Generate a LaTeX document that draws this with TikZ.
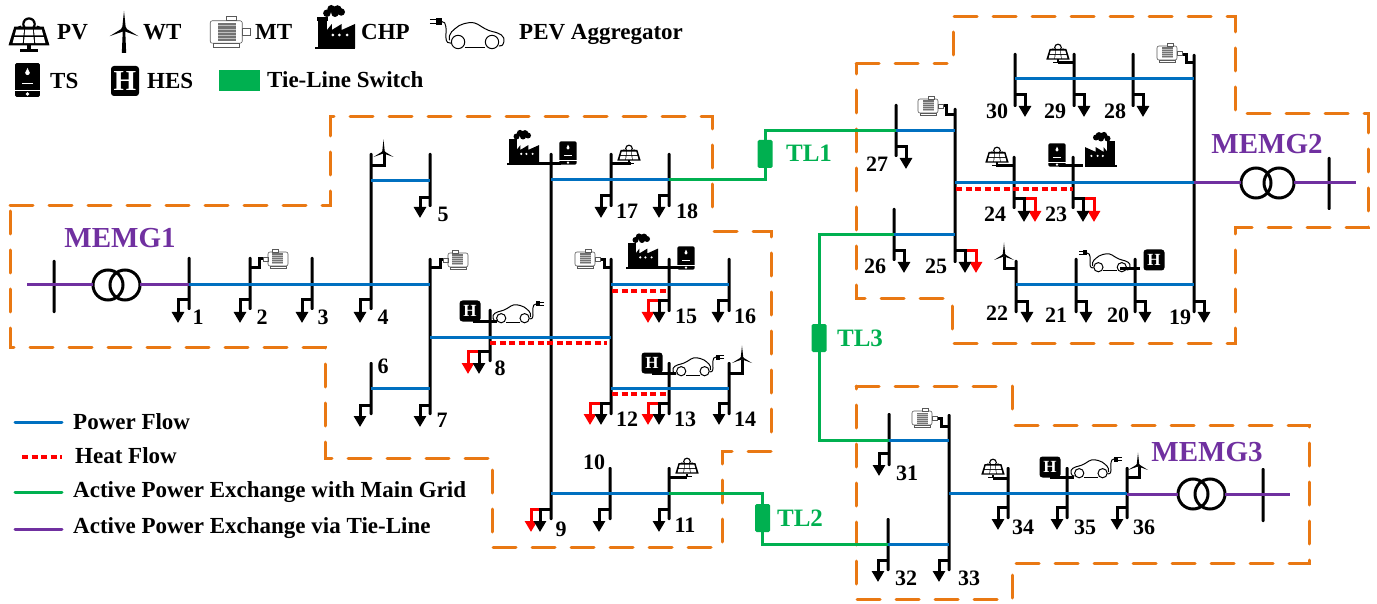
\documentclass[tikz,border=0pt]{standalone}
\usepackage{fontspec}
\setmainfont{Liberation Serif}
\usetikzlibrary{arrows.meta}
\definecolor{cblue}{HTML}{0070C0}
\definecolor{cgreen}{HTML}{00B050}
\definecolor{cpurple}{HTML}{7030A0}
\definecolor{cred}{HTML}{FF0000}
\definecolor{corange}{HTML}{E97813}
\tikzset{
 busnode/.style={fill=black,inner sep=0pt,outer sep=0pt,minimum width=3pt,draw=none,rounded corners=1pt},
 stub/.style={line width=3pt,black},
 loadarrow/.style={stub,-{Triangle[length=11pt,width=12pt]}},
 heatarrow/.style={loadarrow,cred},
 pf/.style={line width=3pt,cblue},
 hf/.style={line width=3.2pt,cred,dash pattern=on 6pt off 3.5pt},
 gl/.style={line width=3pt,cgreen},
 pl/.style={line width=3pt,cpurple},
 bound/.style={line width=3pt,corange,line cap=round,dash pattern=on 23pt off 16pt},
 xf/.style={circle,draw=black,line width=3pt,minimum size=30pt,inner sep=0pt,outer sep=0pt},
 tieswitch/.style={fill=cgreen,rounded corners=1.5pt,minimum width=15pt,minimum height=28pt,inner sep=0pt,outer sep=0pt},
 hes/.style={fill=black,rounded corners=3pt,minimum width=21pt,minimum height=21pt,inner sep=0pt,text=white,font=\fontsize{17}{17}\selectfont\bfseries},
 numlab/.style={inner sep=0pt,font=\fontsize{22}{22}\selectfont\bfseries},
 legtext/.style={inner sep=0pt,anchor=base west,font=\fontsize{23}{23}\selectfont\bfseries},
 memg/.style={inner sep=0pt,text=cpurple,font=\fontsize{29}{29}\selectfont\bfseries},
 tllab/.style={inner sep=0pt,text=cgreen,font=\fontsize{25}{25}\selectfont\bfseries},
 pics/pvicon/.style={code={
   \fill[even odd rule] (0,-4.5) circle[radius=3.9] (0,-4.5) circle[radius=2.7];
   \foreach \a in {-70,-35,0,35,70}{\fill ({90+\a}:0) ++(0,-4.5) ++({90+\a}:4.6) -- ++({\a}:.8) -- ++({90+\a}:1.9) -- ++({180+\a}:1.6) -- ++({270+\a}:1.9) -- cycle;}
   \fill (-8.4,-3) -- (8.4,-3) -- (11.7,7.6) -- (-11.7,7.6) -- cycle;
   \foreach \t/\b/\wt/\wb in {-1.4/2/8.3/9.3, 3/6.3/9.7/10.6}{
     \foreach \l/\r in {-.88/-.34,-.27/.27,.34/.88}{
       \fill[white] ({\l*\wt},\t) -- ({\r*\wt},\t) -- ({\r*\wb},\b) -- ({\l*\wb},\b) -- cycle;
     }
   }
   \fill (-1.2,7.5) rectangle (1.2,10);
   \fill (-5,10) rectangle (5,11.3);
 }},
 pics/wticon/.style={code={
   \fill (0,0) circle[radius=1.9];
   \fill (-1.3,0) -- (0,-12.5) -- (1.3,0) -- cycle;
   \fill (0,-1.2) -- (-10,5) -- (.7,1.2) -- cycle;
   \fill (0,-1.2) -- (10,5) -- (-.7,1.2) -- cycle;
   \fill (-.8,0) -- (.8,0) -- (1.5,#1) -- (-1.5,#1) -- cycle;
 }},
 pics/mticon/.style={code={
   \draw[black!65,line width=.6pt,fill=white,rounded corners=2pt] (-13,-7) rectangle (7,7);
   \draw[black!65,line width=.6pt,fill=white] (-3,-10) rectangle (3,-7);
   \draw[black!65,line width=.6pt] (-11,7) rectangle (5,9.5);
   \draw[black!65,line width=.6pt] (7,-2) rectangle (12,2);
   \fill[black!55] (-8,-5.5) rectangle (3,5.5);
   \foreach \v in {-4,-2,0,2,4}{\draw[black!25,line width=.4pt] (-8,\v) -- (3,\v);}
 }},
 pics/chpicon/.style={code={
   \fill (-16,16) rectangle (16,17.6);
   \fill (-13.6,-6) rectangle (-6.4,17);
   \fill (-14.4,-8) rectangle (-5.6,-5);
   \fill (-6.4,17) -- (-6.4,2.4) -- (-2.6,-2.4) -- (-2.6,2.4) -- (5.3,-2.4) -- (5.3,2.4) -- (16,-2.4) -- (16,17) -- cycle;
   \fill[white] (-1.8,6.4) circle[radius=1.2] (3.4,6.4) circle[radius=1.2] (9.6,6.4) circle[radius=1.2];
   \fill (-6.5,-11) circle[radius=3] (-3,-14.5) circle[radius=3.1] (2,-14) circle[radius=3.4] (5,-12) circle[radius=3] (0,-11) circle[radius=3];
 }},
 pics/tsicon/.style={code={
   \fill[rounded corners=1.5pt] (-8.6,-11.7) rectangle (8.6,11.7);
   \fill[white] (0,-8.3) -- (1.6,-5) arc[start angle=0,end angle=180,radius=1.6] -- cycle;
   \fill[white] (-4,1.8) rectangle (4,2.9);
   \fill[white] (-8.6,6.6) rectangle (8.6,7.3);
   \fill[white] (0,9.6) circle[radius=1.3];
 }},
 pics/pevicon/.style={code={
   \draw[line width=1pt] (-21,-8) .. controls (-17,-8) and (-18,-2) .. (-18,3) .. controls (-18,6.5) and (-16,7.5) .. (-14.5,7);
   \draw[line width=1pt] (-15.5,5) .. controls (-16.5,0) and (-13,-2) .. (-9,-5) .. controls (-4,-7.5) and (1,-8) .. (4,-6) .. controls (8,-3.5) and (10,-2) .. (14,-1) .. controls (19,0) and (23,2) .. (22,6) .. controls (21.5,8.5) and (20,9.5) .. (18.5,9);
   \draw[line width=1pt] (-5,10) -- (9,10);
   \draw[line width=1pt] (-9.6,6.2) circle[radius=4.6] (13.8,6.2) circle[radius=4.6];
   \fill (-25,-10.5) rectangle (-21,-5.5);
   \draw[line width=.8pt] (-29,-9.3) -- (-25,-9.3) (-29,-6.7) -- (-25,-6.7);
 }},
}
\newcommand\busbar[4]{\node[busnode,minimum height={(#4-#3)*1pt}] (#1) at (#2,{(#3+#4)/2}) {};}
\newcommand\loadat[4]{\draw[loadarrow] (#1 |- 0,#2) -| (#3,#4);}
\newcommand\heatat[4]{\draw[heatarrow] (#1 |- 0,#2) -| (#3,#4);}
\newcommand\numat[4]{\node[numlab] (#1) at (#2,#3) {#4};}
\begin{document}
\begin{tikzpicture}[x=1pt,y=-1pt]
\useasboundingbox (0,0) rectangle (1377,604);
% boundaries
\draw[bound] (10,206) -- (330,206) -- (330,117) -- (712,117) -- (712,218);
\draw[bound] (714,232) -- (771,232) -- (771,437);
\draw[bound] (771,451) -- (722,451) -- (722,547) -- (492,547) -- (492,458) -- (325,458) -- (325,347) -- (10,347) -- (10,206);
\draw[bound] (856,64) -- (947,64);
\draw[bound] (953,55) -- (953,17) -- (1235,17) -- (1235,114) -- (1368,114) -- (1368,228) -- (1235,228) -- (1235,343) -- (952,343) -- (952,299) -- (856,299) -- (856,64);
\draw[bound] (856,386) -- (1012,386) -- (1012,412);
\draw[bound] (1015,425) -- (1309,425) -- (1309,563) -- (1012,563) -- (1012,599) -- (856,599) -- (856,386);
% buses
\busbar{bA}{54}{260}{313}
\busbar{b1}{189}{257}{310}
\busbar{b2}{250}{257}{310}
\busbar{b3}{312}{257}{310}
\busbar{b4}{371}{153}{310}
\busbar{b5}{430}{153}{207}
\busbar{b6}{371}{362}{415}
\busbar{b7}{430}{258}{415}
\busbar{b8}{490}{309}{362}
\busbar{b9}{551}{153}{520}
\busbar{b10}{610}{467}{520}
\busbar{b11}{669}{467}{520}
\busbar{b12}{611}{258}{415}
\busbar{b13}{669}{362}{415}
\busbar{b14}{729}{362}{415}
\busbar{b15}{669}{258}{312}
\busbar{b16}{729}{258}{312}
\busbar{b17}{611}{153}{207}
\busbar{b18}{669}{153}{207}
\busbar{b19}{1194}{54}{313}
\busbar{b20}{1135}{258}{313}
\busbar{b21}{1076}{258}{313}
\busbar{b22}{1016}{260}{313}
\busbar{b23}{1073}{156}{209}
\busbar{b24}{1014}{156}{209}
\busbar{b25}{955}{108}{263}
\busbar{b26}{894}{208}{261}
\busbar{b27}{896}{104}{157}
\busbar{b28}{1133}{53}{107}
\busbar{b29}{1074}{53}{107}
\busbar{b30}{1015}{53}{107}
\busbar{b31}{889}{413}{466}
\busbar{b32}{888}{518}{571}
\busbar{b33}{949}{414}{571}
\busbar{b34}{1008}{467}{519}
\busbar{b35}{1067}{467}{519}
\busbar{b36}{1127}{467}{519}
\busbar{bB}{1329}{157}{210}
\busbar{bC}{1263}{468}{522}
% transformers
\node[xf] (t1a) at (108,285) {};
\node[xf] (t1b) at (125,285) {};
\node[xf] (t2a) at (1256,183) {};
\node[xf] (t2b) at (1279,183) {};
\node[xf] (t3a) at (1193,494) {};
\node[xf] (t3b) at (1210,494) {};
% tie switches
\node[tieswitch] (TL1) at (765,154) {};
\node[tieswitch] (TL2) at (762.5,518) {};
\node[tieswitch] (TL3) at (819,338) {};
% power flow
\draw[pf] (b1 |- 0,285) -- (b7 |- 0,285);
\draw[pf] (b4 |- 0,181) -- (b5 |- 0,181);
\draw[pf] (b6 |- 0,388) -- (b7 |- 0,388);
\draw[pf] (b7 |- 0,337) -- (b12 |- 0,337);
\draw[pf] (b9 |- 0,180) -- (b18 |- 0,180);
\draw[pf] (b12 |- 0,285) -- (b16 |- 0,285);
\draw[pf] (b12 |- 0,388) -- (b14 |- 0,388);
\draw[pf] (b9 |- 0,493) -- (b11 |- 0,493);
\draw[pf] (b27 |- 0,131) -- (b25 |- 0,131);
\draw[pf] (b26 |- 0,235) -- (b25 |- 0,235);
\draw[pf] (b25 |- 0,183) -- (b19 |- 0,183);
\draw[pf] (b30 |- 0,79) -- (b19 |- 0,79);
\draw[pf] (b22 |- 0,285) -- (b19 |- 0,285);
\draw[pf] (b31 |- 0,440) -- (b33 |- 0,440);
\draw[pf] (b32 |- 0,544) -- (b33 |- 0,544);
\draw[pf] (b33 |- 0,493) -- (b36 |- 0,493);
% heat flow
\draw[hf] (b8 |- 0,343) -- (607,343);
\draw[hf] (612,291) -- (b15 |- 0,291);
\draw[hf] (612,394) -- (b13 |- 0,394);
\draw[hf] (956,189) -- (b23 |- 0,189);
% green
\draw[gl] (b18 |- 0,180) -| (TL1.south);
\draw[gl] (TL1.north) |- (b27 |- 0,131);
\draw[gl] (b11 |- 0,493) -| (TL2.north);
\draw[gl] (TL2.south) |- (b32 |- 0,544);
\draw[gl] (b26 |- 0,235) -| (TL3.north);
\draw[gl] (TL3.south) |- (b31 |- 0,440);
% purple
\coordinate (e1) at (27,285);
\coordinate (e2) at (1356,183);
\coordinate (e3) at (1290,494);
\draw[pl] (e1) -- (t1a.west);
\draw[pl] (t1b.east) -- (b1 |- t1b.east);
\draw[pl] (b19 |- t2a.west) -- (t2a.west);
\draw[pl] (t2b.east) -- (e2);
\draw[pl] (b36 |- t3a.west) -- (t3a.west);
\draw[pl] (t3b.east) -- (e3);
% loads
\loadat{b1}{300}{178}{323}
\loadat{b2}{300}{240}{323}
\loadat{b3}{300}{302}{323}
\loadat{b4}{300}{360}{323}
\loadat{b5}{198}{420}{218}
\loadat{b6}{405}{360}{427}
\loadat{b7}{405}{420}{427}
\heatat{b8}{351}{468}{374}
\loadat{b8}{351}{479}{374}
\heatat{b9}{509}{531}{532}
\loadat{b9}{509}{540}{532}
\loadat{b10}{509}{599}{532}
\loadat{b11}{509}{659}{532}
\heatat{b12}{403}{590}{425}
\loadat{b12}{403}{601}{425}
\heatat{b13}{403}{648}{425}
\loadat{b13}{403}{659}{425}
\loadat{b14}{403}{719}{425}
\heatat{b15}{301}{648}{323}
\loadat{b15}{301}{659}{323}
\loadat{b16}{301}{718}{323}
\loadat{b17}{196}{601}{218}
\loadat{b18}{196}{659}{218}
\loadat{b19}{302}{1204}{323}
\loadat{b20}{302}{1145}{323}
\loadat{b21}{302}{1086}{323}
\loadat{b22}{302}{1027}{323}
\heatat{b23}{199}{1094}{222}
\loadat{b23}{199}{1083}{222}
\heatat{b24}{199}{1035}{222}
\loadat{b24}{199}{1024}{222}
\heatat{b25}{251}{976}{273}
\loadat{b25}{251}{965}{273}
\loadat{b26}{251}{904}{273}
\loadat{b27}{147}{906}{169}
\loadat{b28}{95}{1143}{117}
\loadat{b29}{95}{1084}{117}
\loadat{b30}{95}{1025}{117}
\loadat{b31}{453}{879}{476}
\loadat{b32}{560}{878}{582}
\loadat{b33}{560}{939}{582}
\loadat{b34}{507}{998}{530}
\loadat{b35}{507}{1057}{530}
\loadat{b36}{507}{1117}{530}
% stubs to units
\draw[stub] (b2 |- 0,268) -| (259,259) -- (263,259);
\draw[stub] (b7 |- 0,268) -| (440,260) -- (444,260);
\draw[stub] (b12 |- 0,268) -| (604,260) -- (600,260);
\draw[stub] (b25 |- 0,115) -| (946,106) -- (943,106);
\draw[stub] (b19 |- 0,63) -| (1186,55) -- (1182,55);
\draw[stub] (b33 |- 0,426) -| (941,418) -- (937,418);
\draw[stub] (b4 |- 0,166) -| (384,153);
\draw[stub] (b14 |- 0,373) -| (742,360);
\draw[stub] (b22 |- 0,269) -| (1004,257);
\draw[stub] (b36 |- 0,477) -| (1139,467);
\draw[stub] (b17 |- 0,164) -- ++(20,0);
\draw[stub] (b11 |- 0,477) -- ++(18,0);
\draw[stub] (b24 |- 0,166) -- ++(-18,0);
\draw[stub] (b29 |- 0,63) -- ++(-16,0);
\draw[stub] (b34 |- 0,478) -- ++(-15,0);
\draw[stub] (b9 |- 0,164) ++(-14,0) -- ++(24,0);
\draw[stub] (b15 |- 0,268) ++(-14,0) -- ++(24,0);
\draw[stub] (b23 |- 0,166) ++(-14,0) -- ++(24,0);
\draw[stub] (b8 |- 0,321) ++(-17,0) -- ++(24,0);
\draw[stub] (b13 |- 0,373) ++(-17,0) -- ++(24,0);
\draw[stub] (b20 |- 0,269) ++(-15,0) -- ++(20,0);
\draw[stub] (b35 |- 0,477) ++(-17,0) -- ++(24,0);
% units
\pic (mt2) at (275,259) [xscale=-1] {mticon};
\pic (mt7) at (455,260) [xscale=-1] {mticon};
\pic (mt12) at (588,259) {mticon};
\pic (mt25) at (931,106) {mticon};
\pic (mt19) at (1170,53) {mticon};
\pic (mt33) at (925,418) {mticon};
\pic (pv17) at (629,153) {pvicon};
\pic (pv11) at (687,466) {pvicon};
\pic (pv24) at (997,155) {pvicon};
\pic (pv29) at (1058,52) {pvicon};
\pic (pv34) at (993,467) {pvicon};
\pic (wt4) at (383.5,152) {wticon=0};
\pic (wt14) at (742,358) {wticon=0};
\pic (wt22) at (1004,255) {wticon=0};
\pic (wt36) at (1138,465) {wticon=0};
\pic (chp9) at (523,147.5) {chpicon};
\pic (chp15) at (642,251) {chpicon};
\pic (chp23) at (1101,149.5) [xscale=-1] {chpicon};
\pic (ts9) at (568,153) {tsicon};
\pic (ts15) at (686,258) {tsicon};
\pic (ts23) at (1057,155) {tsicon};
\node[hes] (h8) at (470,311) {H};
\node[hes] (h13) at (652,363) {H};
\node[hes] (h20) at (1154,260) {H};
\node[hes] (h35) at (1050,467) {H};
\pic (pev8) at (515,312) [xscale=-1] {pevicon};
\pic (pev13) at (695,365) [xscale=-1] {pevicon};
\pic (pev20) at (1108,261) {pevicon};
\pic (pev35) at (1093,467) [xscale=-1] {pevicon};
% numbers
\numat{n1}{198}{317}{1}
\numat{n2}{262}{317}{2}
\numat{n3}{323}{317}{3}
\numat{n4}{383}{317}{4}
\numat{n5}{443}{214}{5}
\numat{n6}{383}{366}{6}
\numat{n7}{442}{420}{7}
\numat{n8}{500}{368}{8}
\numat{n9}{561}{529}{9}
\numat{n10}{594}{462}{10}
\numat{n11}{685}{525}{11}
\numat{n12}{627}{419}{12}
\numat{n13}{685}{419}{13}
\numat{n14}{745}{419}{14}
\numat{n15}{686}{316}{15}
\numat{n16}{745}{316}{16}
\numat{n17}{627}{211}{17}
\numat{n18}{687}{211}{18}
\numat{n19}{1180}{317}{19}
\numat{n20}{1118}{315}{20}
\numat{n21}{1056}{315}{21}
\numat{n22}{997}{313}{22}
\numat{n23}{1056}{214}{23}
\numat{n24}{995}{214}{24}
\numat{n25}{936}{266}{25}
\numat{n26}{875}{266}{26}
\numat{n27}{877}{164}{27}
\numat{n28}{1115}{111}{28}
\numat{n29}{1055}{111}{29}
\numat{n30}{997}{111}{30}
\numat{n31}{907}{473}{31}
\numat{n32}{906}{578}{32}
\numat{n33}{969}{578}{33}
\numat{n34}{1023}{527}{34}
\numat{n35}{1085}{527}{35}
\numat{n36}{1144}{527}{36}
% region and tie labels
\node[memg] (M1) at (120,238) {MEMG1};
\node[memg] (M2) at (1267,144) {MEMG2};
\node[memg] (M3) at (1207,452) {MEMG3};
\node[tllab] (L1) at (809,153) {TL1};
\node[tllab] (L2) at (800,518) {TL2};
\node[tllab] (L3) at (860,338) {TL3};
% top legend
\pic (kpv) at (29,32) [scale=1.75] {pvicon};
\node[legtext] (kpvt) at (57,40) {PV};
\pic (kwt) at (124,29) [scale=1.45] {wticon=16.5};
\node[legtext] (kwtt) at (143,40) {WT};
\pic (kmt) at (231,32) [scale=1.6] {mticon};
\node[legtext] (kmtt) at (255,40) {MT};
\pic (kchp) at (335,27) [scale=1.25] {chpicon};
\node[legtext] (kchpt) at (361,40) {CHP};
\pic (kpev) at (472,33) [scale=1.45] {pevicon};
\node[legtext] (kpevt) at (519,40) {PEV Aggregator};
\pic (kts) at (27.5,80) [scale=1.45] {tsicon};
\node[legtext] (ktst) at (50,89) {TS};
\node[hes,minimum width=28pt,minimum height=30pt,font=\fontsize{29}{29}\selectfont\bfseries] (khes) at (125,81) {H};
\node[legtext] (khest) at (147,89) {HES};
\node[fill=cgreen,minimum width=41pt,minimum height=21pt,inner sep=0pt] (ksw) at (239,81) {};
\node[legtext] (kswt) at (267,88) {Tie-Line Switch};
% flow legend
\coordinate (f1a) at (15,422); \coordinate (f1b) at (62,422);
\coordinate (f2a) at (22,457); \coordinate (f2b) at (62,457);
\coordinate (f3a) at (15,492); \coordinate (f3b) at (62,492);
\coordinate (f4a) at (15,529); \coordinate (f4b) at (62,529);
\draw[pf,line cap=round] (f1a) -- (f1b);
\draw[hf] (f2a) -- (f2b);
\draw[gl,line cap=round] (f3a) -- (f3b);
\draw[pl,line cap=round] (f4a) -- (f4b);
\node[legtext] (ft1) at (73,429) {Power Flow};
\node[legtext] (ft2) at (75,463) {Heat Flow};
\node[legtext] (ft3) at (73,497) {Active Power Exchange with Main Grid};
\node[legtext] (ft4) at (73,533) {Active Power Exchange via Tie-Line};
\end{tikzpicture}
\end{document}
